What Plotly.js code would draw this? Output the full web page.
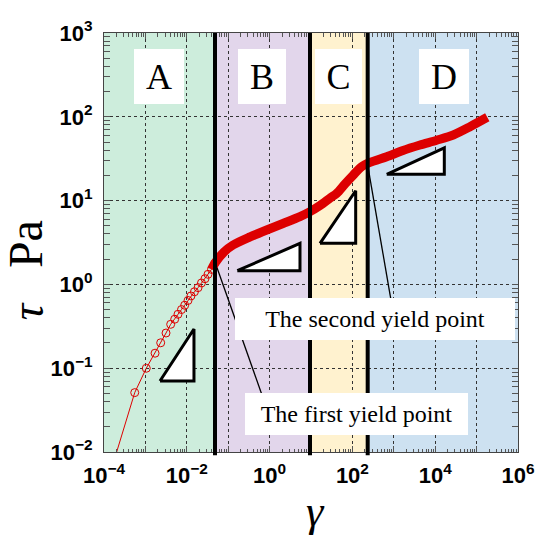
<!DOCTYPE html>
<html><head><meta charset="utf-8">
<script src="https://cdn.plot.ly/plotly-3.0.1.min.js"></script>
<style>html,body{margin:0;padding:0;background:#fff}#chart{width:539px;height:538px}</style>
</head><body><div id="chart"></div>
<script>
// ---- data (strain gamma, stress tau in Pa) ----
const gammaSparse = [1.78e-4, 5.52e-4, 1.05e-3, 1.71e-3, 2.34e-3, 3.15e-3, 4.08e-3, 5.10e-3, 6.12e-3, 7.45e-3, 8.89e-3, 0.0107, 0.0126, 0.0153, 0.0187, 0.0226, 0.0275, 0.0325, 0.0395, 0.0472];
const tauSparse   = [8.13e-3, 0.0511, 0.0998, 0.151, 0.201, 0.263, 0.334, 0.384, 0.440, 0.501, 0.564, 0.643, 0.728, 0.817, 0.914, 1.04, 1.17, 1.32, 1.51, 1.78];
const gammaBand = [0.0395, 0.0472, 0.0793, 0.131, 0.337, 0.851, 2.11, 5.42, 9.46, 16.5, 28.8, 41.8, 66.2, 105, 168, 266, 675, 1667, 4295, 10860, 27350, 69340, 181100];
const tauBand   = [1.51, 1.78, 2.44, 2.95, 3.68, 4.46, 5.33, 6.43, 7.38, 8.73, 10.7, 12.2, 15.8, 20.2, 25.4, 28.5, 33.4, 39.6, 46.0, 52.5, 60.7, 76.2, 98.6];

const regionNames  = ['A', 'B', 'C', 'D'];
const regionEdges  = [1e-4, 0.048, 9.46, 234, 1e6];
const regionColors = ['#cdeddc', '#e2d6eb', '#fff2cf', '#cde1f1'];

const yieldLabels = ['The first yield point', 'The second yield point'];
const yieldGamma  = [0.048, 238];
const yieldTau    = [1.85, 25.2];

const xTickVals = [1e-4, 1e-2, 1e0, 1e2, 1e4, 1e6];
const xTickText = ['10<sup>−4</sup>', '10<sup>−2</sup>', '10<sup>0</sup>', '10<sup>2</sup>', '10<sup>4</sup>', '10<sup>6</sup>'];
const xOddDecades = [1e-3, 1e-1, 1e1, 1e3, 1e5];
const yTickVals = [1e-2, 1e-1, 1e0, 1e1, 1e2, 1e3];
const yTickText = ['10<sup>−2</sup>', '10<sup>−1</sup>', '10<sup>0</sup>', '10<sup>1</sup>', '10<sup>2</sup>', '10<sup>3</sup>'];

// ---- decorations (slope triangles, label boxes, leader line ends) ----
const triangles = [
  {x: [2.25e-3, 0.0149, 0.0149, 2.25e-3], y: [0.0703, 0.294, 0.0703, 0.0703]},
  {x: [0.166, 5.42, 5.42, 0.166],         y: [1.456, 3.09, 1.456, 1.456]},
  {x: [16.5, 120, 120, 16.5],             y: [3.09, 13.1, 3.09, 3.09]},
  {x: [675, 16600, 16600, 675],           y: [20.6, 42.5, 20.6, 20.6]}
];
const regionLabelPos = [{x: -2.671, w: 50}, {x: -0.176, w: 48}, {x: 1.676, w: 47}, {x: 4.208, w: 50}];
const yieldBoxes = [
  {x: 2.104, y: -1.547, w: 223, h: 42, lineEnd: [0.655, 0.0479]},
  {x: 2.546, y: -0.413, w: 280, h: 42, lineEnd: [906, 0.552]}
];

function minorVals(lo, hi) {
  const v = [];
  for (let e = lo; e < hi; e++) for (let m = 2; m <= 9; m++) v.push(m * Math.pow(10, e));
  return v;
}

const red = '#dd0000';
const traces = [];
// helper invisible trace so the odd-decade grid axis is drawn
traces.push({x: [1], y: [1], xaxis: 'x2', yaxis: 'y', mode: 'markers', marker: {opacity: 0}, hoverinfo: 'skip', showlegend: false});
// leader lines
yieldBoxes.forEach((b, i) => {
  traces.push({x: [yieldGamma[i], b.lineEnd[0]], y: [yieldTau[i], b.lineEnd[1]], mode: 'lines',
    line: {color: '#000', width: 1.3}, hoverinfo: 'skip', showlegend: false});
});
// data
traces.push({x: gammaSparse, y: tauSparse, mode: 'lines+markers', showlegend: false,
  line: {color: red, width: 1},
  marker: {symbol: 'circle-open', size: 8, color: red, line: {width: 1, color: red}}});
traces.push({x: gammaBand, y: tauBand, mode: 'lines', showlegend: false,
  line: {color: red, width: 9, shape: 'spline', smoothing: 0.8}});
// triangles
triangles.forEach(t => traces.push({x: t.x, y: t.y, mode: 'lines', fill: 'toself', fillcolor: '#fff',
  line: {color: '#000', width: 3}, hoverinfo: 'skip', showlegend: false}));

const shapes = [];
for (let i = 0; i < regionNames.length; i++) {
  shapes.push({type: 'rect', xref: 'x', yref: 'paper', x0: regionEdges[i], x1: regionEdges[i + 1], y0: 0, y1: 1,
    fillcolor: regionColors[i], line: {width: 0}, layer: 'below'});
}
for (let i = 1; i < regionEdges.length - 1; i++) {
  shapes.push({type: 'line', xref: 'x', yref: 'paper', x0: regionEdges[i], x1: regionEdges[i], y0: -0.008, y1: 1,
    line: {color: '#000', width: 4}, layer: 'above'});
}

const serif = 'Liberation Serif, Times New Roman, serif';
const annotations = [];
regionNames.forEach((n, i) => annotations.push({xref: 'x', yref: 'y', x: regionLabelPos[i].x, y: 2.481, text: n,
  showarrow: false, bgcolor: '#fff', width: regionLabelPos[i].w, height: 55, borderpad: 0, borderwidth: 0,
  font: {family: serif, size: 36, color: '#000'}}));
yieldBoxes.forEach((b, i) => annotations.push({xref: 'x', yref: 'y', x: b.x, y: b.y, text: yieldLabels[i],
  showarrow: false, bgcolor: '#fff', width: b.w, height: b.h, borderpad: 0, borderwidth: 0,
  font: {family: serif, size: 24, color: '#000'}}));
// y-axis title: "τ  Pa" (two pieces, rotated)
annotations.push({xref: 'paper', yref: 'paper', x: -0.19, y: 0.497, xanchor: 'center', yanchor: 'middle',
  text: 'Pa', textangle: -90, showarrow: false, font: {family: serif, size: 48, color: '#000'}});
annotations.push({xref: 'paper', yref: 'paper', x: -0.185, y: 0.337, xanchor: 'center', yanchor: 'middle',
  text: '<i>τ</i>', textangle: -90, showarrow: false, font: {family: serif, size: 46, color: '#000'}});
// x-axis title
annotations.push({xref: 'paper', yref: 'paper', x: 0.511, y: -0.143, xanchor: 'center', yanchor: 'middle',
  text: '<i>γ</i>', showarrow: false, font: {family: serif, size: 44, color: '#000'}});

const tickFont = {family: 'Liberation Sans, Arial, sans-serif', size: 22, color: '#000', weight: 'bold'};
const axisCommon = {
  type: 'log', showline: true, linecolor: '#444', linewidth: 1, mirror: 'allticks',
  ticks: 'inside', ticklen: 6, tickcolor: '#555', tickwidth: 1,
  showgrid: true, gridcolor: '#333', gridwidth: 1, griddash: 'dot', zeroline: false,
  tickfont: tickFont, tickmode: 'array'
};
const layout = {
  width: 539, height: 538,
  margin: {l: 104, r: 21, t: 33, b: 86, pad: 0},
  paper_bgcolor: '#fff', plot_bgcolor: 'rgba(0,0,0,0)',
  showlegend: false,
  xaxis: Object.assign({}, axisCommon, {range: [-4, 6], tickvals: xTickVals, ticktext: xTickText,
    ticklabelstandoff: 4,
    minor: {tickmode: 'array', tickvals: minorVals(-4, 6), ticks: 'inside', ticklen: 3.5, tickcolor: '#555', showgrid: false}}),
  xaxis2: {type: 'log', overlaying: 'x', side: 'bottom', range: [-4, 6], tickmode: 'array', tickvals: xOddDecades,
    showticklabels: false, ticks: 'inside', ticklen: 6, tickcolor: '#555', mirror: 'allticks', showline: false,
    showgrid: true, gridcolor: '#333', gridwidth: 1, griddash: 'dot', zeroline: false},
  yaxis: Object.assign({}, axisCommon, {range: [-2, 3], tickvals: yTickVals, ticktext: yTickText,
    ticklabelstandoff: 6,
    minor: {tickmode: 'array', tickvals: minorVals(-2, 3), ticks: 'inside', ticklen: 3.5, tickcolor: '#555', showgrid: false}}),
  shapes: shapes,
  annotations: annotations
};
Plotly.newPlot('chart', traces, layout, {staticPlot: true, displayModeBar: false});
</script>
</body></html>
